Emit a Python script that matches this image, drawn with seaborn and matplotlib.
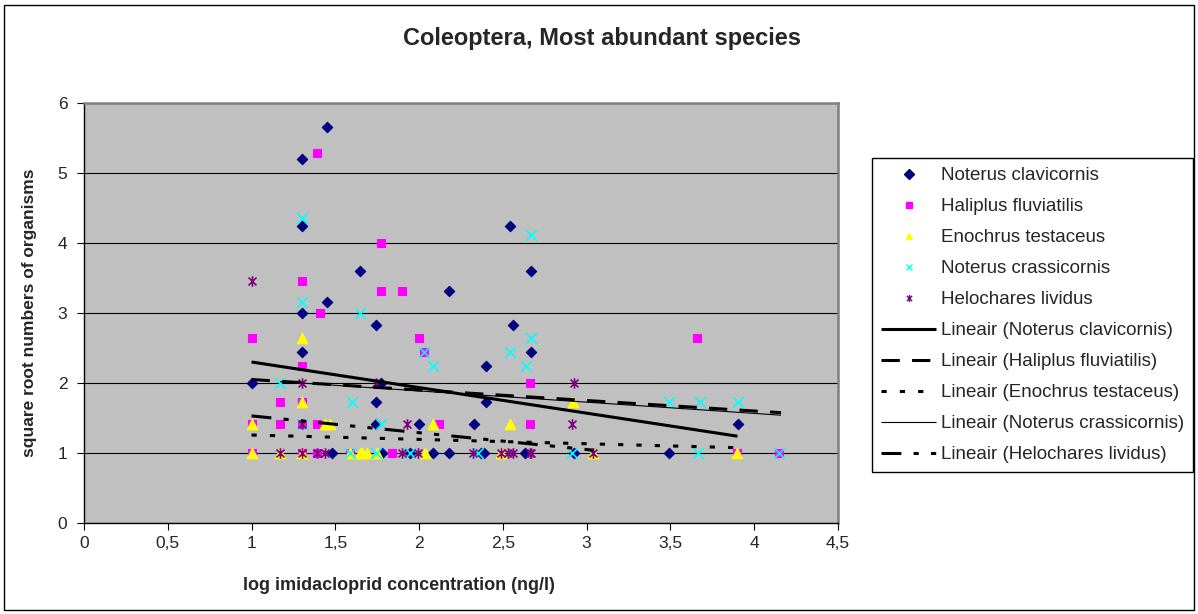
import matplotlib
matplotlib.use("Agg")
import matplotlib.pyplot as plt
import seaborn as sns
from matplotlib.lines import Line2D
from matplotlib.patches import Rectangle
from matplotlib.path import Path
from matplotlib.ticker import FuncFormatter, MultipleLocator

# --- data ---
clav_x = [1.0, 1.3, 1.3, 1.3, 1.3, 1.45, 1.45, 1.48, 1.65, 1.74, 1.74, 1.74, 1.77, 1.78,
          1.945, 2.0, 2.085, 2.18, 2.18, 2.33, 2.37, 2.40, 2.40, 2.39, 2.54, 2.56, 2.63,
          2.67, 2.67, 2.925, 3.49, 3.905]
clav_y = [2.0, 5.2, 4.24, 3.0, 2.45, 5.66, 3.16, 1.0, 3.6, 2.83, 1.73, 1.41, 2.0, 1.0,
          1.0, 1.41, 1.0, 3.31, 1.0, 1.41, 1.0, 2.24, 1.73, 1.0, 4.24, 2.83, 1.0,
          3.6, 2.45, 1.0, 1.0, 1.41]

hali_x = [1.0, 1.0, 1.0, 1.17, 1.17, 1.3, 1.3, 1.3, 1.3, 1.3, 1.39, 1.41, 1.39, 1.39,
          1.59, 1.77, 1.77, 1.9, 1.84, 2.0, 2.03, 2.12, 2.66, 2.66, 3.66, 3.9, 4.15]
hali_y = [2.65, 1.41, 1.0, 1.73, 1.41, 3.46, 2.24, 1.73, 1.41, 1.0, 5.29, 3.0, 1.41, 1.0,
          1.0, 4.0, 3.32, 3.32, 1.0, 2.65, 2.45, 1.41, 2.0, 1.41, 2.65, 1.0, 1.0]

enoc_x = [1.0, 1.0, 1.17, 1.3, 1.3, 1.3, 1.44, 1.47, 1.59, 1.65, 1.66, 1.69, 1.75,
          2.035, 2.08, 2.49, 2.54, 2.92, 3.04, 3.9]
enoc_y = [1.41, 1.0, 1.0, 2.65, 1.73, 1.0, 1.41, 1.41, 1.0, 1.0, 1.0, 1.0, 1.0,
          1.0, 1.41, 1.0, 1.41, 1.73, 1.0, 1.0]

crass_x = [1.17, 1.3, 1.3, 1.3, 1.59, 1.6, 1.65, 1.775, 1.74, 1.945, 2.03, 2.08, 2.35,
           2.54, 2.635, 2.67, 2.67, 2.91, 3.49, 3.675, 3.905, 3.665, 4.15]
crass_y = [2.0, 4.36, 3.16, 1.41, 1.0, 1.73, 3.0, 1.41, 1.0, 1.0, 2.45, 2.24, 1.0,
           2.45, 2.24, 4.12, 2.64, 1.0, 1.73, 1.73, 1.73, 1.0, 1.0]

helo_x = [1.0, 1.17, 1.3, 1.3, 1.3, 1.39, 1.44, 1.74, 1.895, 1.925, 1.995, 2.32, 2.49,
          2.53, 2.56, 2.66, 2.67, 2.91, 2.925, 3.04]
helo_y = [3.46, 1.0, 2.0, 1.41, 1.0, 1.0, 1.0, 2.0, 1.0, 1.41, 1.0, 1.0, 1.0,
          1.0, 1.0, 1.0, 1.0, 1.41, 2.0, 1.0]

# linear trend end points (as drawn in the reference)
trend_clav_x, trend_clav_y = [1.0, 3.9], [2.30, 1.24]
trend_hali_x, trend_hali_y = [1.0, 4.16], [2.05, 1.576]
trend_enoc_x, trend_enoc_y = [1.0, 3.9], [1.257, 1.076]
trend_crass_x, trend_crass_y = [1.17, 4.16], [2.02, 1.54]
trend_helo_x, trend_helo_y = [1.0, 3.04], [1.53, 1.04]

species = ["Noterus clavicornis", "Haliplus fluviatilis", "Enochrus testaceus",
           "Noterus crassicornis", "Helochares lividus"]

ASTERISK = Path([(0, -1), (0, 1), (-0.75, -0.75), (0.75, 0.75), (-0.75, 0.75), (0.75, -0.75)],
                [Path.MOVETO, Path.LINETO, Path.MOVETO, Path.LINETO, Path.MOVETO, Path.LINETO])


def main():
    sns.set_style("white")
    plt.rcParams["font.family"] = ["Liberation Sans", "DejaVu Sans"]

    fig = plt.figure(figsize=(11.98, 6.14), dpi=100)
    ax = fig.add_axes([84 / 1198, 1 - 523 / 614, (838 - 84) / 1198, (523 - 103) / 614])
    ax.set_facecolor("#C0C0C0")

    scatter_specs = [
        (clav_x, clav_y, "D", "#000080", 28, 0.8),
        (hali_x, hali_y, "s", "#FF00FF", 38, 0.8),
        (enoc_x, enoc_y, "^", "#FFFF00", 58, 0.8),
        (crass_x, crass_y, "x", "#00FFFF", 58, 1.2),
        (helo_x, helo_y, ASTERISK, "#800080", 58, 1.2),
    ]
    for (xs, ys, mk, col, size, lw), name in zip(scatter_specs, species):
        sns.scatterplot(x=xs, y=ys, marker=mk, color=col, edgecolor=col, s=size,
                        linewidth=lw, ax=ax, zorder=3, legend=False)

    line_specs = [
        (trend_clav_x, trend_clav_y, "-", 2.2),
        (trend_hali_x, trend_hali_y, (0, (6, 4)), 2.2),
        (trend_enoc_x, trend_enoc_y, (0, (1.7, 4.3)), 2.2),
        (trend_crass_x, trend_crass_y, "-", 0.8),
        (trend_helo_x, trend_helo_y, (0, (6.5, 4, 1.7, 4, 1.7, 4)), 2.2),
    ]
    for xs, ys, ls, lw in line_specs:
        ax.plot(xs, ys, color="black", linestyle=ls, linewidth=lw, zorder=4,
                solid_capstyle="butt", dash_capstyle="butt")

    ax.set_xlim(0, 4.5)
    ax.set_ylim(0, 6)
    ax.xaxis.set_major_locator(MultipleLocator(0.5))
    ax.yaxis.set_major_locator(MultipleLocator(1))
    ax.xaxis.set_major_formatter(FuncFormatter(lambda v, p: f"{v:g}".replace(".", ",")))
    ax.tick_params(axis="both", direction="out", length=5, width=0.8, color="black",
                   labelsize=12.5, pad=4, bottom=True, left=True)
    ax.tick_params(axis="y", pad=7)
    ax.yaxis.grid(True, color="black", linewidth=0.8)
    ax.set_axisbelow(True)
    for side in ["left", "bottom"]:
        ax.spines[side].set_color("black")
        ax.spines[side].set_linewidth(1)
    for side in ["top", "right"]:
        ax.spines[side].set_color("#808080")
        ax.spines[side].set_linewidth(1.8)

    fig.text(602 / 1198, 1 - 38 / 614, "Coleoptera, Most abundant species",
             ha="center", va="center", fontsize=17, fontweight="bold")
    fig.text(30 / 1198, 1 - 313 / 614, "square root numbers of organisms",
             ha="center", va="center", rotation=90, fontsize=12.5, fontweight="bold")
    fig.text(399 / 1198, 1 - 585 / 614, "log imidacloprid concentration (ng/l)",
             ha="center", va="center", fontsize=13, fontweight="bold")

    handles = []
    for (xs, ys, mk, col, size, lw), name in zip(scatter_specs, species):
        handles.append(Line2D([], [], marker=mk, color=col, markeredgecolor=col,
                              markersize=5 if mk != "s" else 4.5, markeredgewidth=1,
                              linestyle="none"))
    for xs, ys, ls, lw in line_specs:
        handles.append(Line2D([], [], color="black", linestyle=ls, linewidth=lw,
                              solid_capstyle="butt", dash_capstyle="butt"))
    labels = species + [f"Lineair ({s})" for s in species]

    leg = fig.legend(handles, labels, loc="upper left",
                     bbox_to_anchor=(872 / 1198, 1 - 158 / 614), borderaxespad=0,
                     fontsize=13.5, handlelength=2.95, handletextpad=0.25, labelspacing=0.74,
                     borderpad=0.48, frameon=True, fancybox=False, framealpha=1,
                     edgecolor="black")
    leg.get_frame().set_linewidth(1)

    fig.patches.append(Rectangle((4 / 1198, 4 / 614), 1190 / 1198, 605 / 614,
                                 transform=fig.transFigure, fill=False,
                                 edgecolor="black", linewidth=1))

    fig.savefig("out.png", dpi=100)
    plt.close(fig)


if __name__ == "__main__":
    main()
